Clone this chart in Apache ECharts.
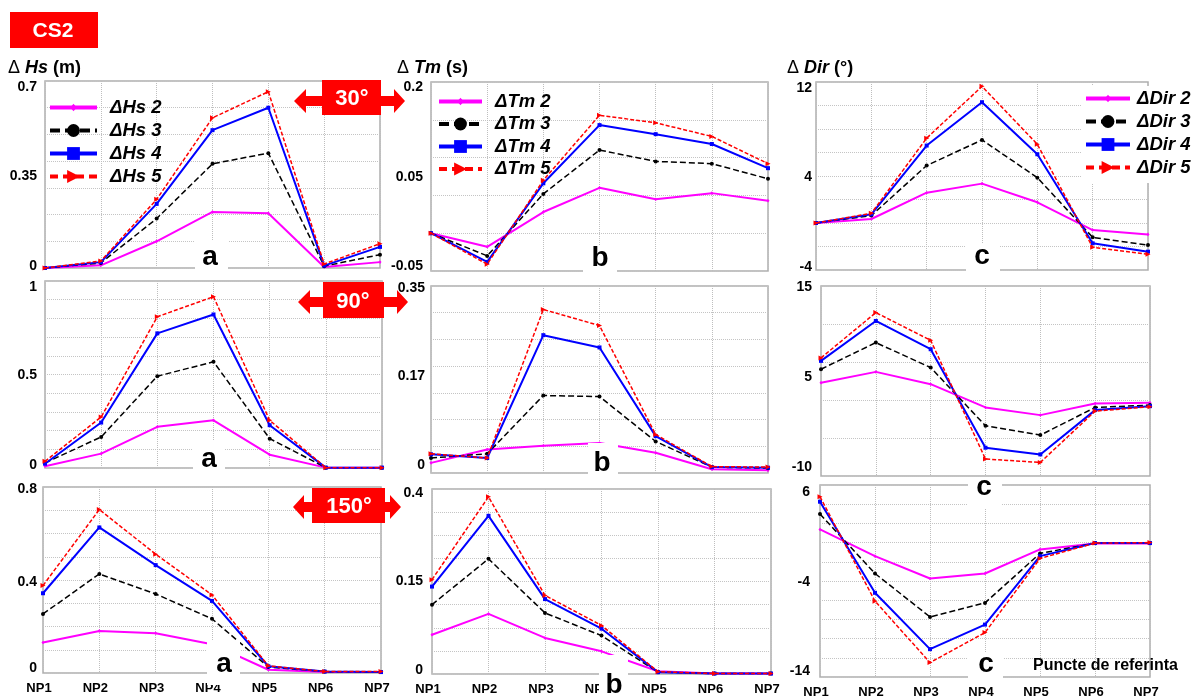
<!DOCTYPE html>
<html>
<head>
<meta charset="utf-8">
<script src="https://cdn.jsdelivr.net/npm/echarts@6/dist/echarts.min.js"></script>
<style>
  html, body { margin: 0; padding: 0; background: #fff; }
  #chart { width: 1196px; height: 697px; }
</style>
</head>
<body>
<div id="chart"></div>
<script>
// Reference points along the profile
const categories = ['NP1', 'NP2', 'NP3', 'NP4', 'NP5', 'NP6', 'NP7'];

// Series names per parameter (scenarios 2..5)
const hsNames  = ['ΔHs 2', 'ΔHs 3', 'ΔHs 4', 'ΔHs 5'];
const tmNames  = ['ΔTm 2', 'ΔTm 3', 'ΔTm 4', 'ΔTm 5'];
const dirNames = ['ΔDir 2', 'ΔDir 3', 'ΔDir 4', 'ΔDir 5'];

// Wave direction 30°  (rows: scenario 2, 3, 4, 5)
const hs30 = [
  [0, 0.010, 0.100, 0.210, 0.205, 0.004, 0.022],
  [0, 0.019, 0.185, 0.390, 0.430, 0.007, 0.050],
  [0, 0.022, 0.240, 0.516, 0.600, 0.009, 0.079],
  [0, 0.026, 0.257, 0.562, 0.660, 0.015, 0.091]
];
const tm30 = [
  [0, -0.018, 0.028, 0.060, 0.045, 0.053, 0.043],
  [0, -0.030, 0.052, 0.110, 0.095, 0.092, 0.072],
  [0, -0.038, 0.066, 0.143, 0.131, 0.118, 0.086],
  [0, -0.041, 0.070, 0.156, 0.146, 0.128, 0.092]
];
const dir30 = [
  [0, 0.34, 2.58, 3.35, 1.76, -0.60, -0.97],
  [0, 0.63, 4.89, 7.07, 3.86, -1.22, -1.88],
  [0, 0.74, 6.59, 10.28, 5.85, -1.73, -2.44],
  [0, 0.82, 7.22, 11.63, 6.70, -2.07, -2.67]
];

// Wave direction 90°
const hs90 = [
  [0.009, 0.077, 0.220, 0.255, 0.071, 0.002, 0.002],
  [0.027, 0.166, 0.491, 0.568, 0.157, 0.002, 0.002],
  [0.023, 0.243, 0.720, 0.821, 0.229, 0.002, 0.002],
  [0.036, 0.273, 0.809, 0.916, 0.255, 0.002, 0.002]
];
const tm90 = [
  [0.019, 0.044, 0.051, 0.056, 0.038, 0.007, 0.005],
  [0.028, 0.036, 0.145, 0.143, 0.059, 0.011, 0.009],
  [0.035, 0.028, 0.258, 0.235, 0.069, 0.011, 0.010],
  [0.036, 0.028, 0.306, 0.276, 0.072, 0.012, 0.011]
];
const dir90 = [
  [2.26, 3.70, 2.08, -0.98, -1.99, -0.46, -0.37],
  [4.05, 7.55, 4.27, -3.39, -4.62, -0.98, -0.67],
  [5.15, 10.40, 6.68, -6.28, -7.16, -1.33, -0.81],
  [5.54, 11.50, 7.85, -7.77, -8.21, -1.46, -0.89]
];

// Wave direction 150°
const hs150 = [
  [0.131, 0.181, 0.171, 0.124, 0.014, 0.004, 0.004],
  [0.254, 0.426, 0.340, 0.233, 0.026, 0.006, 0.004],
  [0.343, 0.626, 0.464, 0.310, 0.029, 0.006, 0.004],
  [0.376, 0.703, 0.511, 0.336, 0.031, 0.006, 0.006]
];
const tm150 = [
  [0.085, 0.130, 0.078, 0.049, 0.006, 0.001, 0.001],
  [0.150, 0.249, 0.132, 0.083, 0.004, 0.001, 0.001],
  [0.189, 0.342, 0.162, 0.098, 0.004, 0.001, 0.001],
  [0.204, 0.383, 0.170, 0.105, 0.005, 0.001, 0.001]
];
const dir150 = [
  [1.37, -1.41, -3.74, -3.22, -0.71, -0.09, -0.09],
  [2.97, -3.22, -7.74, -6.28, -1.13, -0.05, -0.05],
  [4.26, -5.23, -11.10, -8.54, -1.41, -0.05, -0.05],
  [4.78, -6.10, -12.50, -9.37, -1.65, -0.05, 0.00]
];

// Y tick labels (bottom, middle, top)
const hsTicks30   = ['0', '0.35', '0.7'];
const tmTicks30   = ['-0.05', '0.05', '0.2'];
const dirTicks30  = ['-4', '4', '12'];
const hsTicks90   = ['0', '0.5', '1'];
const tmTicks90   = ['0', '0.17', '0.35'];
const dirTicks90  = ['-10', '5', '15'];
const hsTicks150  = ['0', '0.4', '0.8'];
const tmTicks150  = ['0', '0.15', '0.4'];
const dirTicks150 = ['-14', '-4', '6'];

const FONT = 'Arial, "Liberation Sans", Helvetica, sans-serif';

// Panel layout: plot rectangle [left, top, width, height], label vertical nudges, label margin
const panels = [
  { data: hs30,   names: hsNames,  ticks: hsTicks30,   min: 0,     max: 0.7,  step: 0.1,  rect: [45, 81, 335, 187],  shift: [-2, 2, 6],  lm: 8,  row: 0 },
  { data: tm30,   names: tmNames,  ticks: tmTicks30,   min: -0.05, max: 0.2,  step: 0.05, rect: [431, 82, 337, 189], shift: [-5, 1, 5],  lm: 8,  row: 0 },
  { data: dir30,  names: dirNames, ticks: dirTicks30,  min: -4,    max: 12,   step: 2,    rect: [816, 82, 332, 188], shift: [-3, 1, 6],  lm: 4,  row: 0 },
  { data: hs90,   names: hsNames,  ticks: hsTicks90,   min: 0,     max: 1,    step: 0.1,  rect: [45, 281, 337, 187], shift: [-3, 1, 6],  lm: 8,  row: 1 },
  { data: tm90,   names: tmNames,  ticks: tmTicks90,   min: 0,     max: 0.35, step: 0.05, rect: [431, 286, 337, 187], shift: [-8, -3, 2], lm: 6,  row: 1 },
  { data: dir90,  names: dirNames, ticks: dirTicks90,  min: -10,   max: 15,   step: 5,    rect: [821, 286, 329, 190], shift: [-9, -4, 1], lm: 9,  row: 1 },
  { data: hs150,  names: hsNames,  ticks: hsTicks150,  min: 0,     max: 0.8,  step: 0.1,  rect: [43, 487, 338, 186], shift: [-5, 2, 2],  lm: 6,  row: 2 },
  { data: tm150,  names: tmNames,  ticks: tmTicks150,  min: 0,     max: 0.4,  step: 0.05, rect: [432, 489, 339, 185], shift: [-4, 0, 4],  lm: 9,  row: 2 },
  { data: dir150, names: dirNames, ticks: dirTicks150, min: -14,   max: 6,    step: 2,    rect: [820, 485, 330, 192], shift: [-6, 1, 7],  lm: 10, row: 2 }
];

// Small diamond centred in a larger box, so it stays small in the legend
const SMALL_DIAMOND = 'path://M0,0M20,20M10,4L15,10L10,16L5,10Z';

// Styles of the four scenario lines
const lineStyles = [
  { color: '#ff00ff', width: 2,   type: 'solid',  symbol: SMALL_DIAMOND, size: 6, rotate: 0 },
  { color: '#000000', width: 1.5, type: [6, 3],   symbol: 'circle',      size: 4, rotate: 0 },
  { color: '#0000ff', width: 2,   type: 'solid',  symbol: 'rect',        size: 4, rotate: 0 },
  { color: '#ff0000', width: 1.5, type: [4, 2],   symbol: 'triangle',    size: 5, rotate: -90 }
];
const legendDash = ['solid', [10, 5], 'solid', [8, 5]];

function shiftStyle(d) {
  return {
    fontFamily: FONT, fontSize: 14, fontWeight: 'bold', color: '#000',
    padding: d > 0 ? [2 * d, 0, 0, 0] : [0, 0, -2 * d, 0]
  };
}

const grids = [], xAxes = [], yAxes = [], series = [];
panels.forEach((p, i) => {
  grids.push({
    left: p.rect[0], top: p.rect[1], width: p.rect[2], height: p.rect[3],
    show: true, borderColor: '#aeaeae', borderWidth: 1.5, backgroundColor: 'transparent',
    containLabel: false, outerBoundsMode: 'none'
  });
  xAxes.push({
    type: 'category', gridIndex: i, data: categories, boundaryGap: false,
    axisLine: { show: false }, axisTick: { show: false },
    axisLabel: {
      show: p.row === 2, interval: 0, margin: 9, color: '#000',
      fontFamily: FONT, fontSize: 13, fontWeight: 'bold', padding: [0, 8, 0, 0]
    },
    splitLine: { show: true, interval: 0, lineStyle: { color: '#bebebe', type: 'dotted', width: 1 } }
  });
  // grid-line axis
  yAxes.push({
    type: 'value', gridIndex: i, position: 'left', min: p.min, max: p.max, interval: p.step,
    axisLine: { show: false }, axisTick: { show: false }, axisLabel: { show: false },
    splitLine: { show: true, lineStyle: { color: '#c4c4c4', type: 'dotted', width: 1 } }
  });
  // label axis: bottom, middle and top labels
  const half = (p.max - p.min) / 2;
  yAxes.push({
    type: 'value', gridIndex: i, position: 'left', min: p.min, max: p.max, interval: half,
    axisLine: { show: false }, axisTick: { show: false }, splitLine: { show: false },
    axisLabel: {
      show: true, margin: p.lm, color: '#000', fontFamily: FONT, fontSize: 14, fontWeight: 'bold',
      showMinLabel: true, showMaxLabel: true,
      formatter: (v) => {
        const k = Math.round((v - p.min) / half);
        return '{s' + k + '|' + p.ticks[k] + '}';
      },
      rich: { s0: shiftStyle(p.shift[0]), s1: shiftStyle(p.shift[1]), s2: shiftStyle(p.shift[2]) }
    }
  });
  p.names.forEach((nm, k) => {
    const s = lineStyles[k];
    series.push({
      type: 'line', name: nm, xAxisIndex: i, yAxisIndex: 2 * i, data: p.data[k],
      symbol: s.symbol, symbolSize: s.size, symbolRotate: s.rotate, showSymbol: true,
      lineStyle: { color: s.color, width: s.width, type: s.type },
      itemStyle: { color: s.color },
      z: 3 + k, animation: false, silent: true
    });
  });
});

function makeLegend(names, left, top, itemWidth, textPad, extra) {
  return Object.assign({
    orient: 'vertical', left: left, top: top, itemWidth: itemWidth, itemHeight: 16, itemGap: 4,
    padding: 2, selectedMode: false,
    textStyle: {
      fontFamily: FONT, fontSize: 18.5, fontWeight: 'bold', fontStyle: 'italic', color: '#000',
      lineHeight: 19, padding: [0, 0, 0, textPad]
    },
    lineStyle: { width: 4 },
    data: names.map((n, k) => ({ name: n, lineStyle: { width: 4, type: legendDash[k] } }))
  }, extra || {});
}

const legends = [
  makeLegend(hsNames, 46, 96, 47, 8),
  makeLegend(tmNames, 435, 90, 43, 8, { itemGap: 3.5 }),
  makeLegend(dirNames, 1082, 86, 44, 2, { backgroundColor: '#fff', padding: [3, 6, 6, 2] })
];

// Decorations: case box, axis titles, direction arrows, panel letters
const graphics = [];
graphics.push({ type: 'rect', z: 100, shape: { x: 10, y: 12, width: 88, height: 36 }, style: { fill: '#ff0000' } });
graphics.push({ type: 'text', z: 101, x: 53, y: 31, style: { text: 'CS2', fill: '#fff', font: 'bold 21px ' + FONT, align: 'center', verticalAlign: 'middle' } });

function axisTitle(x, sym, unit) {
  return {
    type: 'text', z: 100, x: x, y: 68,
    style: {
      text: '{d|Δ }{i|' + sym + '}{n| (' + unit + ')}', verticalAlign: 'middle',
      rich: {
        d: { fontFamily: FONT, fontSize: 18, fontWeight: 'normal', fill: '#000' },
        i: { fontFamily: FONT, fontSize: 18, fontWeight: 'bold', fontStyle: 'italic', fill: '#000' },
        n: { fontFamily: FONT, fontSize: 18, fontWeight: 'bold', fill: '#000' }
      }
    }
  };
}
graphics.push(axisTitle(8, 'Hs', 'm'));
graphics.push(axisTitle(397, 'Tm', 's'));
graphics.push(axisTitle(787, 'Dir', '°'));

function arrow(x0, x1, cy, hx0, hx1, rx, ry, rw, rh, label, tx, ty) {
  graphics.push({
    type: 'polygon', z: 100,
    shape: { points: [[x0, cy], [hx0, cy - 12], [hx0, cy - 5], [hx1, cy - 5], [hx1, cy - 12], [x1, cy], [hx1, cy + 12], [hx1, cy + 5], [hx0, cy + 5], [hx0, cy + 12]] },
    style: { fill: '#ff0000' }
  });
  graphics.push({ type: 'rect', z: 100, shape: { x: rx, y: ry, width: rw, height: rh }, style: { fill: '#ff0000' } });
  graphics.push({ type: 'text', z: 101, x: tx, y: ty, style: { text: label, fill: '#fff', font: 'bold 22px ' + FONT, align: 'center', verticalAlign: 'middle' } });
}
arrow(294, 405, 101, 306, 394, 322, 80, 59, 35, '30°', 352, 99);
arrow(298, 408, 302, 310, 397, 323, 282, 61, 36, '90°', 353, 302);
arrow(293, 401, 507, 304, 390, 312, 488, 73, 35, '150°', 349, 507);

function letter(t, cx, cy, bx, by, bw, bh) {
  graphics.push({ type: 'rect', z: 100, shape: { x: bx, y: by, width: bw, height: bh }, style: { fill: '#fff' } });
  graphics.push({ type: 'text', z: 101, x: cx, y: cy, style: { text: t, fill: '#000', font: 'bold 28px ' + FONT, align: 'center', verticalAlign: 'middle' } });
}
letter('a', 210, 257.5, 195, 240, 33, 31);
letter('b', 600, 258, 583, 246, 34, 30);
letter('c', 982, 256.5, 966, 244, 34, 30);
letter('a', 209, 459.5, 193, 440, 32, 33);
letter('b', 602, 463, 588, 443, 30, 35);
letter('c', 984, 487.5, 968, 477, 34, 31);
letter('a', 224, 664.5, 207, 640, 33, 45);
letter('b', 614, 685, 599, 655, 29, 42);
letter('c', 986, 664.5, 968, 652, 35, 33);

graphics.push({ type: 'text', z: 101, x: 1033, y: 666, style: { text: 'Puncte de referinta', fill: '#000', font: 'bold 16px ' + FONT, align: 'left', verticalAlign: 'middle' } });

const chart = echarts.init(document.getElementById('chart'), null, { renderer: 'canvas' });
chart.setOption({
  backgroundColor: '#fff',
  animation: false,
  grid: grids,
  xAxis: xAxes,
  yAxis: yAxes,
  legend: legends,
  series: series,
  graphic: graphics
});
</script>
</body>
</html>
